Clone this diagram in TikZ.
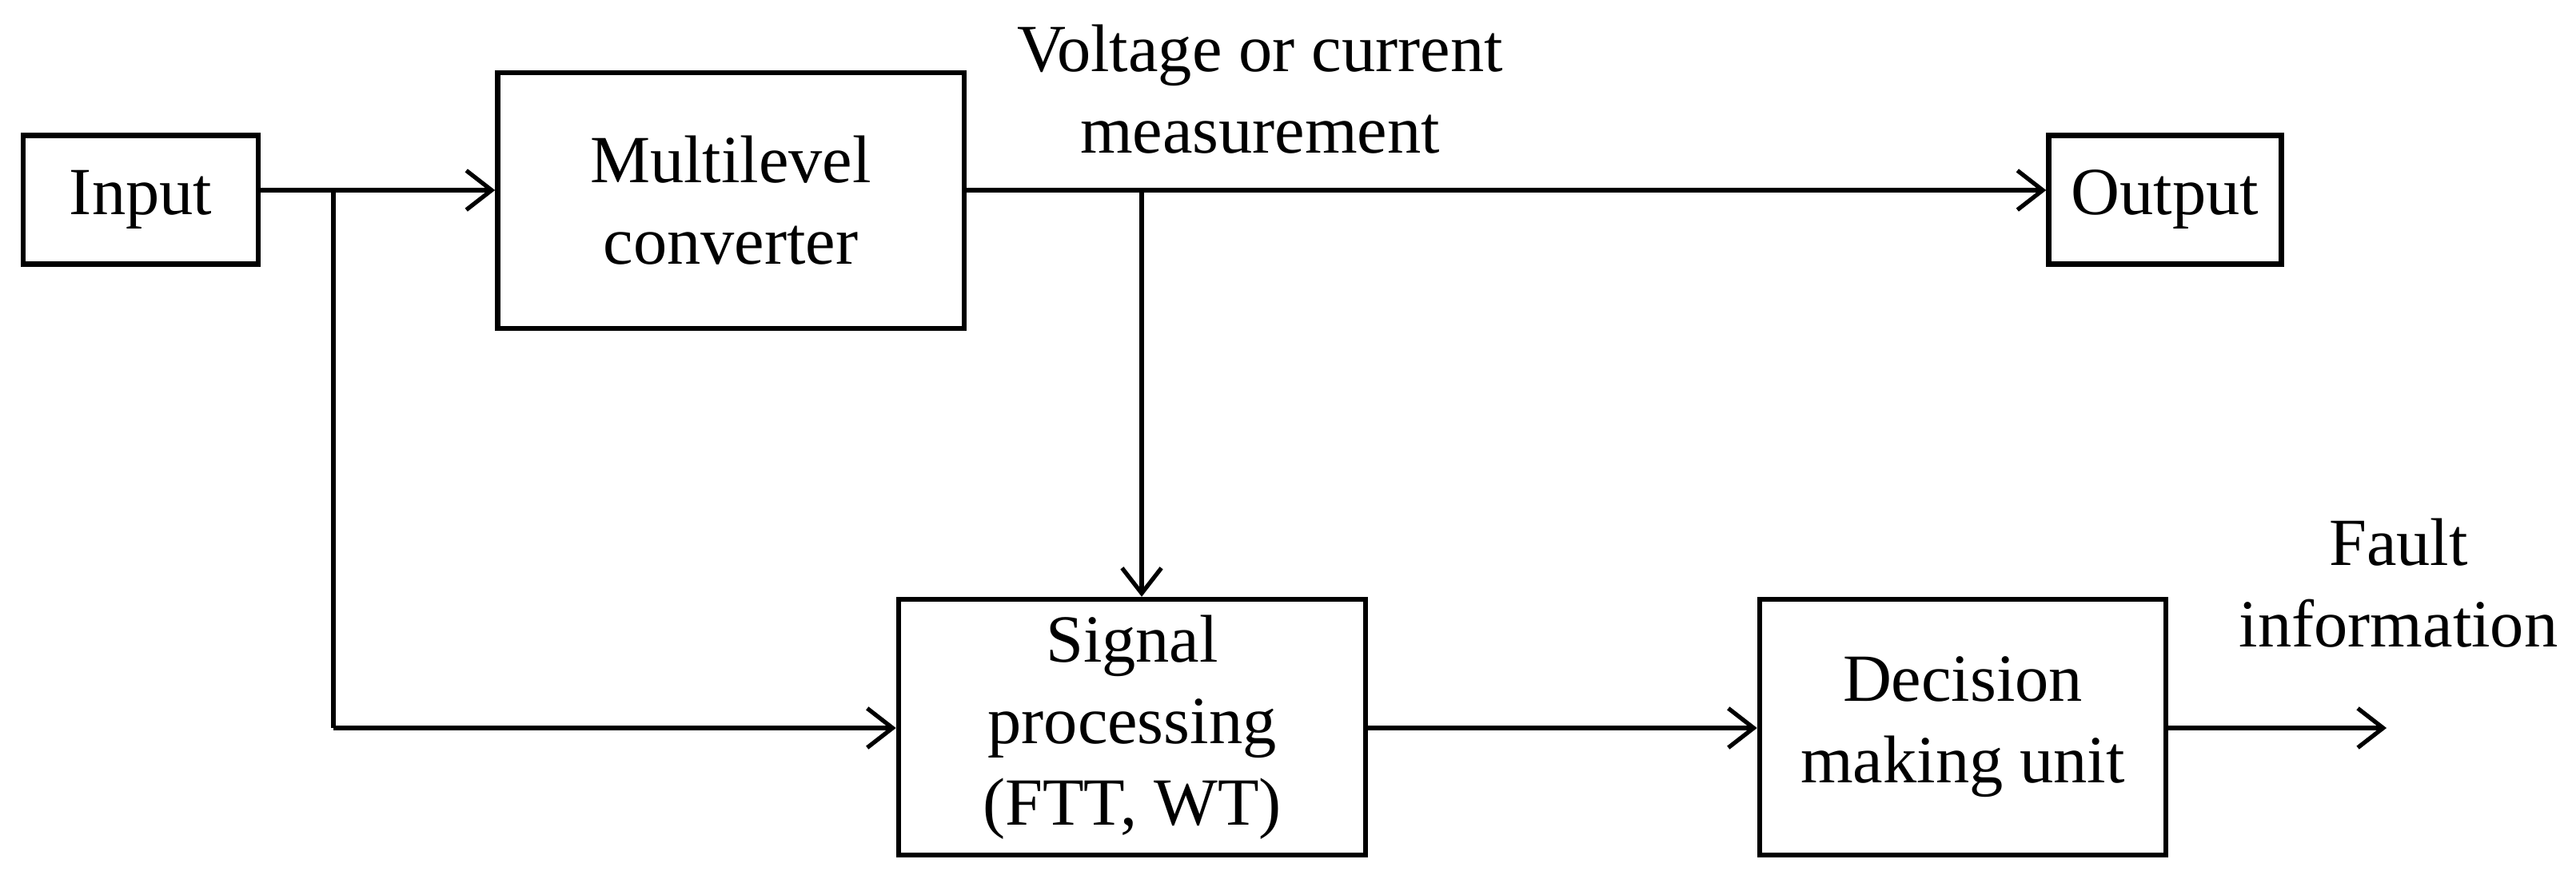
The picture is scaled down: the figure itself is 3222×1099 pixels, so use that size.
\documentclass[tikz,border=0pt]{standalone}
\usepackage{fontspec}
\setmainfont{Liberation Serif}
\usetikzlibrary{arrows.meta}
\begin{document}
\begin{tikzpicture}[x=0.01cm,y=-0.01cm,
  blk/.style={draw,line width=1.8pt,inner sep=0,align=center,font=\fontsize{24}{29}\selectfont},
  lbl/.style={align=center,font=\fontsize{24}{29}\selectfont},
  conn/.style={line width=1.8pt,-{Straight Barb[length=9pt,width=14pt,line width=1.5pt]}},
  ln/.style={line width=1.8pt}]
\useasboundingbox (0,0) rectangle (3222,1099);
\node[blk,minimum width=2.94cm,minimum height=1.61cm] (in) at (176,250) {Input};
\node[blk,minimum width=5.83cm,minimum height=3.2cm] (mc) at (914,251) {Multilevel\\converter};
\node[blk,minimum width=2.91cm,minimum height=1.61cm] (out) at (2708,250) {Output};
\node[blk,minimum width=5.84cm,minimum height=3.2cm] (sp) at (1416,910) {Signal\\processing\\(FTT, WT)};
\node[blk,minimum width=5.08cm,minimum height=3.2cm] (dm) at (2455,910) {Decision\\making unit};
\node[lbl] (vm) at (1576,112) {Voltage or current\\measurement};
\node[lbl] (fi) at (3000,730) {Fault\\information};
\coordinate (b1) at (417,238);
\coordinate (b1d) at (417,911);
\coordinate (b2) at (1428,238);
\coordinate (fe) at (2985,911);
\draw[conn] (in.east |- b1) -- (mc.west |- b1);
\draw[conn] (mc.east |- b2) -- (out.west |- b2);
\draw[conn] (b2) -- (b2 |- sp.north);
\draw[ln] (b1) -- (b1d);
\draw[conn] (b1d) -- (sp.west |- b1d);
\draw[conn] (sp.east |- b1d) -- (dm.west |- b1d);
\draw[conn] (dm.east |- fe) -- (fe);
\end{tikzpicture}
\end{document}
